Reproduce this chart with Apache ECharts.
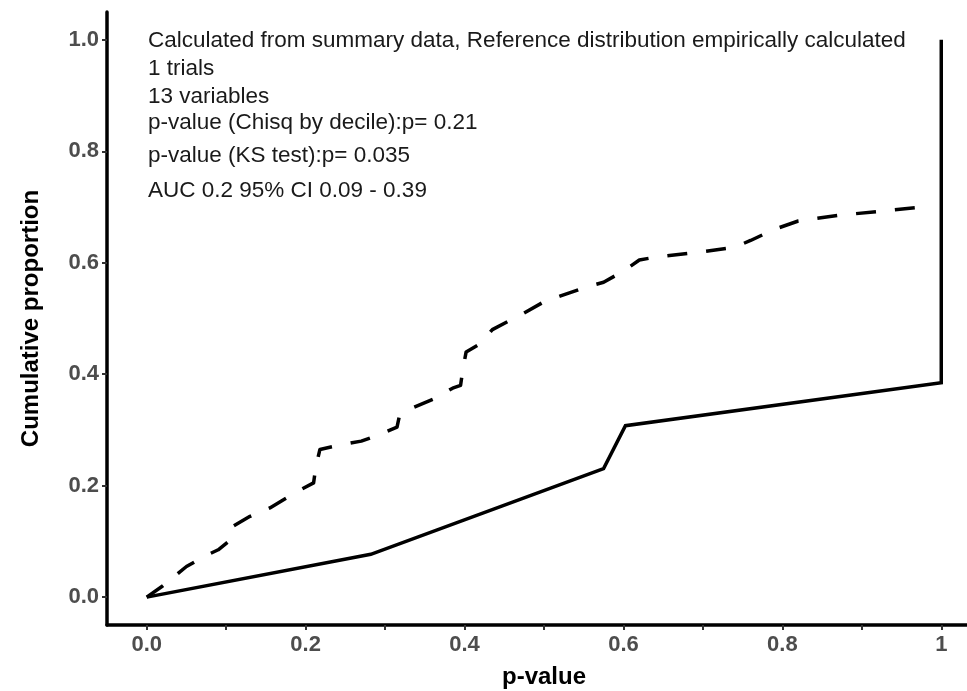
<!DOCTYPE html>
<html>
<head>
<meta charset="utf-8">
<script src="https://cdn.jsdelivr.net/npm/echarts@6/dist/echarts.min.js"></script>
<style>
  html, body { margin: 0; padding: 0; background: #ffffff; }
  #chart { width: 967px; height: 691px; }
</style>
</head>
<body>
<div id="chart"></div>
<script>
// Observed cumulative proportion of the 13 variables by p-value
const observedP   = [0, 0.282, 0.575, 0.6025, 1.0, 1.0];
const observedCum = [0, 0.0769, 0.2308, 0.3077, 0.3846, 1.0];

// Empirically calculated reference distribution
const referenceP = [
  0, 0.02, 0.05, 0.075, 0.09, 0.103, 0.106, 0.13, 0.155, 0.19,
  0.21, 0.213, 0.218, 0.24, 0.27, 0.29, 0.315, 0.318, 0.335, 0.36,
  0.385, 0.395, 0.398, 0.402, 0.42, 0.435, 0.455, 0.475, 0.5, 0.52,
  0.55, 0.575, 0.6, 0.62, 0.64, 0.69, 0.74, 0.76, 0.79, 0.82,
  0.87, 0.92, 0.975
];
const referenceCum = [
  0, 0.02, 0.055, 0.075, 0.085, 0.1, 0.125, 0.145, 0.16, 0.19,
  0.205, 0.235, 0.265, 0.272, 0.28, 0.29, 0.305, 0.325, 0.34, 0.355,
  0.375, 0.38, 0.41, 0.44, 0.455, 0.48, 0.495, 0.51, 0.53, 0.54,
  0.555, 0.565, 0.585, 0.605, 0.61, 0.618, 0.628, 0.64, 0.66, 0.675,
  0.685, 0.692, 0.70
];

// Tick positions
const xTickValues  = [0, 0.1, 0.2, 0.3, 0.4, 0.5, 0.6, 0.7, 0.8, 0.9, 1];
const xLabelValues = [0, 0.2, 0.4, 0.6, 0.8, 1];
const yTickValues  = [0, 0.2, 0.4, 0.6, 0.8, 1];

// Summary text
const annotationLines = [
  'Calculated from summary data, Reference distribution empirically calculated',
  '1 trials',
  '13 variables',
  'p-value (Chisq by decile):p= 0.21',
  'p-value (KS test):p= 0.035',
  'AUC 0.2 95% CI 0.09 - 0.39'
];
const annotationY = [41, 69, 97, 123, 156, 191];

const pairs = (xs, ys) => xs.map((x, i) => [x, ys[i]]);

const chart = echarts.init(document.getElementById('chart'), null, { renderer: 'canvas' });

const fontFamily = '"Liberation Sans", Arial, sans-serif';
const tickLabelStyle = {
  color: '#4d4d4d',
  fontFamily: fontFamily,
  fontWeight: 'bold',
  fontSize: 22
};
const titleStyle = { color: '#000', fontFamily: fontFamily, fontWeight: 'bold', fontSize: 24 };

chart.setOption({
  animation: false,
  backgroundColor: '#ffffff',
  grid: {
    left: 107, top: 12, width: 874, height: 613,
    containLabel: false,
    outerBoundsMode: 'none'
  },
  xAxis: {
    type: 'value',
    min: -0.05,
    max: 1.05,
    name: 'p-value',
    nameLocation: 'middle',
    nameGap: 40,
    nameTextStyle: titleStyle,
    axisLine: { show: true, onZero: false, lineStyle: { color: '#000', width: 3.5 } },
    axisTick: { show: true, length: 5, customValues: xTickValues, lineStyle: { color: '#333', width: 2 } },
    axisLabel: {
      ...tickLabelStyle,
      margin: 9,
      customValues: xLabelValues,
      formatter: v => (v === 1 ? '1' : v.toFixed(1))
    },
    splitLine: { show: false }
  },
  yAxis: {
    type: 'value',
    min: -0.05,
    max: 1.05,
    name: 'Cumulative proportion',
    nameLocation: 'middle',
    nameGap: 64,
    nameTextStyle: titleStyle,
    axisLine: { show: true, onZero: false, lineStyle: { color: '#000', width: 3.5 } },
    axisTick: { show: true, length: 5, customValues: yTickValues, lineStyle: { color: '#333', width: 2 } },
    axisLabel: {
      ...tickLabelStyle,
      margin: 8,
      customValues: yTickValues,
      formatter: v => v.toFixed(1)
    },
    splitLine: { show: false }
  },
  series: [
    {
      name: 'Reference',
      type: 'line',
      data: pairs(referenceP, referenceCum),
      showSymbol: false,
      silent: true,
      lineStyle: { color: '#000', width: 3.5, type: [20, 19], cap: 'butt', join: 'round' },
      z: 3
    },
    {
      name: 'Observed',
      type: 'line',
      data: pairs(observedP, observedCum),
      showSymbol: false,
      silent: true,
      lineStyle: { color: '#000', width: 3.5, cap: 'butt', join: 'miter' },
      z: 4
    }
  ],
  graphic: annotationLines.map((t, i) => ({
    type: 'text',
    left: 148,
    top: annotationY[i] - 12,
    silent: true,
    style: {
      text: t,
      fill: '#1a1a1a',
      font: '22.5px ' + fontFamily
    }
  }))
});
</script>
</body>
</html>
